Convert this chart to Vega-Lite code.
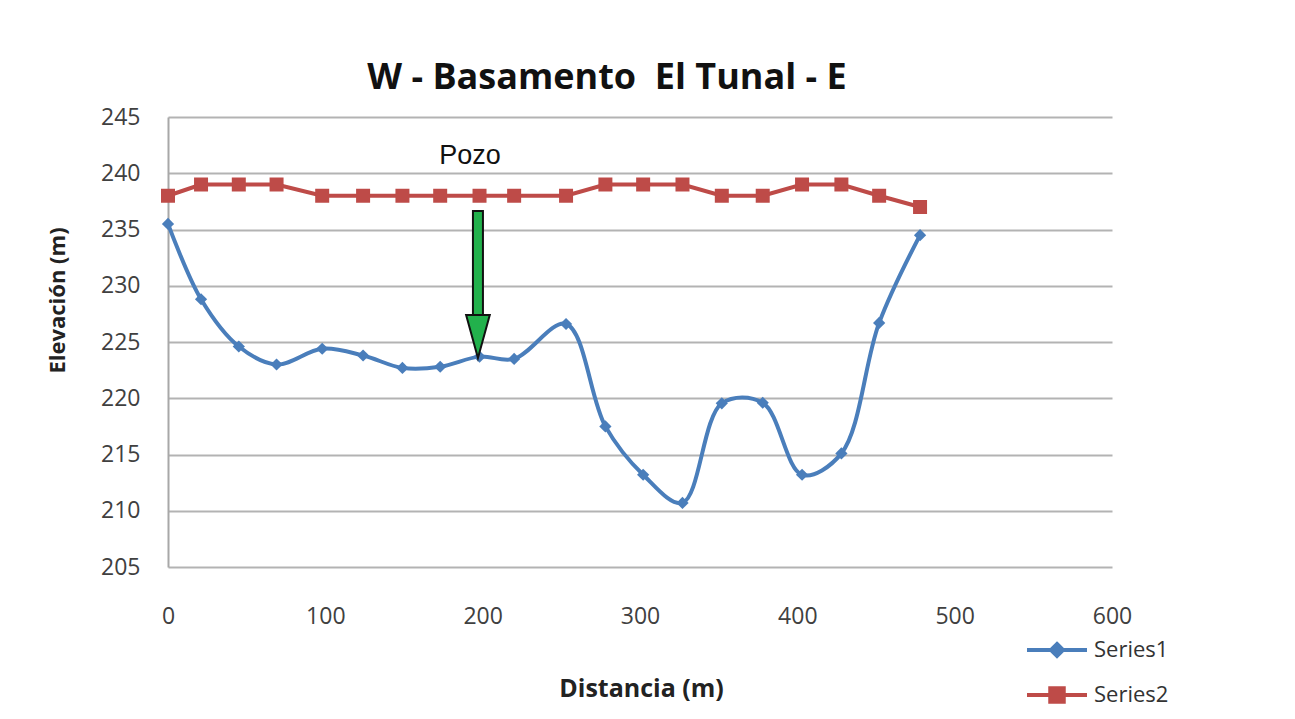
{
  "$schema": "https://vega.github.io/schema/vega-lite/v6.json",
  "autosize": "none",
  "width": 944,
  "height": 450,
  "padding": {"left": 168, "top": 117, "right": 183, "bottom": 152},
  "background": "white",
  "title": {
    "text": "W - Basamento\u00a0 El Tunal - E",
    "font": "Open Sans",
    "fontSize": 36,
    "fontWeight": "bold",
    "color": "#111111",
    "anchor": "middle",
    "frame": "group",
    "dx": -33,
    "baseline": "alphabetic",
    "offset": -19
  },
  "config": {
    "view": {"stroke": null},
    "axis": {"labelFont": "Open Sans", "titleFont": "Open Sans", "labelColor": "#404040", "titleColor": "#222222"}
  },
  "datasets": {
    "series": [
      {"serie": "Series1", "distancia": 0, "elevacion": 235.5},
      {"serie": "Series1", "distancia": 21, "elevacion": 228.8},
      {"serie": "Series1", "distancia": 45, "elevacion": 224.6},
      {"serie": "Series1", "distancia": 69, "elevacion": 223.0},
      {"serie": "Series1", "distancia": 98, "elevacion": 224.4},
      {"serie": "Series1", "distancia": 124, "elevacion": 223.8},
      {"serie": "Series1", "distancia": 149, "elevacion": 222.7},
      {"serie": "Series1", "distancia": 173, "elevacion": 222.8},
      {"serie": "Series1", "distancia": 198, "elevacion": 223.7},
      {"serie": "Series1", "distancia": 220, "elevacion": 223.5},
      {"serie": "Series1", "distancia": 253, "elevacion": 226.6},
      {"serie": "Series1", "distancia": 278, "elevacion": 217.5},
      {"serie": "Series1", "distancia": 302, "elevacion": 213.2},
      {"serie": "Series1", "distancia": 327, "elevacion": 210.7},
      {"serie": "Series1", "distancia": 352, "elevacion": 219.55},
      {"serie": "Series1", "distancia": 378, "elevacion": 219.6},
      {"serie": "Series1", "distancia": 403, "elevacion": 213.2},
      {"serie": "Series1", "distancia": 428, "elevacion": 215.1},
      {"serie": "Series1", "distancia": 452, "elevacion": 226.7},
      {"serie": "Series1", "distancia": 478, "elevacion": 234.5},
      {"serie": "Series2", "distancia": 0, "elevacion": 238},
      {"serie": "Series2", "distancia": 21, "elevacion": 239},
      {"serie": "Series2", "distancia": 45, "elevacion": 239},
      {"serie": "Series2", "distancia": 69, "elevacion": 239},
      {"serie": "Series2", "distancia": 98, "elevacion": 238},
      {"serie": "Series2", "distancia": 124, "elevacion": 238},
      {"serie": "Series2", "distancia": 149, "elevacion": 238},
      {"serie": "Series2", "distancia": 173, "elevacion": 238},
      {"serie": "Series2", "distancia": 198, "elevacion": 238},
      {"serie": "Series2", "distancia": 220, "elevacion": 238},
      {"serie": "Series2", "distancia": 253, "elevacion": 238},
      {"serie": "Series2", "distancia": 278, "elevacion": 239},
      {"serie": "Series2", "distancia": 302, "elevacion": 239},
      {"serie": "Series2", "distancia": 327, "elevacion": 239},
      {"serie": "Series2", "distancia": 352, "elevacion": 238},
      {"serie": "Series2", "distancia": 378, "elevacion": 238},
      {"serie": "Series2", "distancia": 403, "elevacion": 239},
      {"serie": "Series2", "distancia": 428, "elevacion": 239},
      {"serie": "Series2", "distancia": 452, "elevacion": 238},
      {"serie": "Series2", "distancia": 478, "elevacion": 237}
    ],
    "flecha": [
      {"distancia": 197, "desde": 236.73, "hasta": 227.2, "punta": 225.49, "etiqueta": "Pozo", "texto_y": 241.5, "texto_x": 192}
    ]
  },
  "layer": [
    {
      "data": {"name": "series"},
      "transform": [{"filter": "datum.serie === 'Series1'"}],
      "mark": {"type": "line", "interpolate": "catmull-rom", "strokeWidth": 4},
      "encoding": {
        "x": {"field": "distancia", "type": "quantitative", "scale": {"domain": [0, 600], "nice": false},
          "axis": {"title": "Distancia (m)", "values": [0, 100, 200, 300, 400, 500, 600], "grid": false, "ticks": false, "domain": false,
            "labelFlush": false, "labelFontSize": 23, "labelPadding": 38, "titleFontSize": 25, "titleFontWeight": "bold",
            "titleX": 473, "titleY": 121, "titleBaseline": "middle"}},
        "y": {"field": "elevacion", "type": "quantitative", "scale": {"domain": [205, 245], "nice": false, "zero": false},
          "axis": {"title": "Elevación (m)", "values": [205, 210, 215, 220, 225, 230, 235, 240, 245], "grid": true, "gridColor": "#b3b3b3", "gridWidth": 2,
            "ticks": false, "domain": true, "domainColor": "#a8a8a8", "domainWidth": 2,
            "labelFontSize": 23, "labelPadding": 28, "titleFontSize": 22, "titleFontWeight": "bold",
            "titleX": -111, "titleY": 183, "titleAngle": -90, "titleBaseline": "middle", "titleAlign": "center"}},
        "color": {"field": "serie", "type": "nominal",
          "scale": {"domain": ["Series1", "Series2"], "range": ["#4a7ebb", "#be4b48"]},
          "legend": {
            "title": null, "orient": "none", "legendX": 872, "legendY": 516,
            "symbolSize": 900, "symbolType": "M-2,0L2,0", "symbolStrokeWidth": 4,
            "labelFont": "Open Sans", "labelFontSize": 22, "labelColor": "#333333", "labelOffset": 20, "rowPadding": 14,
            "encode": {
              "symbols": {
                "update": {
                  "shape": {"signal": "datum.value === 'Series1' ? 'M-2,0L2,0M0,-0.4L0.4,0L0,0.4L-0.4,0Z' : 'M-2,0L2,0M-0.45,-0.45L0.45,-0.45L0.45,0.45L-0.45,0.45Z'"},
                  "fill": {"signal": "datum.value === 'Series1' ? '#4a7ebb' : '#be4b48'"},
                  "stroke": {"signal": "datum.value === 'Series1' ? '#4a7ebb' : '#be4b48'"},
                  "strokeWidth": {"value": 4},
                  "opacity": {"value": 1},
                  "fillOpacity": {"value": 1}
                }
              }
            }
          }}
      }
    },
    {
      "data": {"name": "series"},
      "transform": [{"filter": "datum.serie === 'Series2'"}],
      "mark": {"type": "line", "interpolate": "linear", "strokeWidth": 4},
      "encoding": {
        "x": {"field": "distancia", "type": "quantitative"},
        "y": {"field": "elevacion", "type": "quantitative"},
        "color": {"field": "serie", "type": "nominal"}
      }
    },
    {
      "data": {"name": "series"},
      "transform": [{"filter": "datum.serie === 'Series1'"}],
      "mark": {"type": "point", "shape": "diamond", "filled": true, "size": 150, "opacity": 1},
      "encoding": {
        "x": {"field": "distancia", "type": "quantitative"},
        "y": {"field": "elevacion", "type": "quantitative"},
        "color": {"field": "serie", "type": "nominal"}
      }
    },
    {
      "data": {"name": "series"},
      "transform": [{"filter": "datum.serie === 'Series2'"}],
      "mark": {"type": "point", "shape": "square", "filled": true, "size": 196, "opacity": 1},
      "encoding": {
        "x": {"field": "distancia", "type": "quantitative"},
        "y": {"field": "elevacion", "type": "quantitative"},
        "color": {"field": "serie", "type": "nominal"}
      }
    },
    {
      "data": {"name": "flecha"},
      "mark": {"type": "rule", "color": "#111111", "strokeWidth": 12},
      "encoding": {
        "x": {"field": "distancia", "type": "quantitative"},
        "y": {"field": "desde", "type": "quantitative"},
        "y2": {"field": "hasta"}
      }
    },
    {
      "data": {"name": "flecha"},
      "mark": {"type": "rule", "color": "#22b14c", "strokeWidth": 8, "yOffset": 2},
      "encoding": {
        "x": {"field": "distancia", "type": "quantitative"},
        "y": {"field": "desde", "type": "quantitative"},
        "y2": {"field": "hasta"}
      }
    },
    {
      "data": {"name": "flecha"},
      "mark": {"type": "point", "shape": "M-0.55,-1L0.55,-1L0,1Z", "size": 1849, "filled": true, "fill": "#22b14c", "stroke": "#111111", "strokeWidth": 2, "opacity": 1},
      "encoding": {
        "x": {"field": "distancia", "type": "quantitative"},
        "y": {"field": "punta", "type": "quantitative"}
      }
    },
    {
      "data": {"name": "flecha"},
      "mark": {"type": "text", "font": "Liberation Sans", "fontSize": 27, "color": "#111111", "baseline": "middle", "align": "center"},
      "encoding": {
        "x": {"field": "texto_x", "type": "quantitative"},
        "y": {"field": "texto_y", "type": "quantitative"},
        "text": {"field": "etiqueta"}
      }
    }
  ]
}
